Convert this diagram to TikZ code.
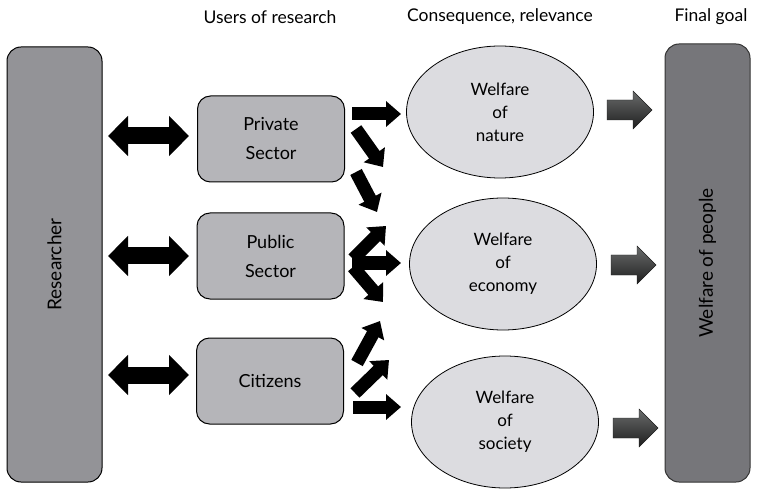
\documentclass[tikz,border=0pt]{standalone}
\usepackage{fontspec}
\setmainfont{Lato}
\usetikzlibrary{arrows.meta,shapes.geometric}
\definecolor{resgray}{HTML}{939397}
\definecolor{usergray}{HTML}{B5B5B9}
\definecolor{ellgray}{HTML}{DCDCE0}
\definecolor{goalgray}{HTML}{76767A}
\definecolor{arrtop}{HTML}{6A6C6C}
\definecolor{arrbot}{HTML}{1E1E1E}
\tikzset{
  bigbox/.style={draw=black, line width=1pt, rounded corners=14pt, inner sep=0pt},
  sidetext/.style={rotate=90, font=\fontsize{19}{22}\selectfont},
  userbox/.style={draw=black, line width=1pt, fill=usergray, rounded corners=13pt, minimum width=147pt, minimum height=86pt, align=center, inner sep=0pt, font=\fontsize{18}{29}\selectfont},
  wellbeing/.style={ellipse, draw=black, line width=0.8pt, fill=ellgray, minimum width=187pt, minimum height=132pt, align=center, inner sep=0pt, font=\fontsize{17}{23}\selectfont},
  header/.style={font=\fontsize{17.5}{20}\selectfont, inner sep=0pt},
  dblarrow/.style={draw=black, line width=17pt, {Triangle[width=39pt,length=20pt]}-{Triangle[width=39pt,length=20pt]}},
  blkarrow/.style={draw=black, line width=13pt, -{Triangle[width=25pt,length=15pt]}},
  garrow/.pic={\shade[top color=arrtop, bottom color=arrbot, draw=arrbot, line width=0.4pt]
     (0,-10) -- (26,-10) -- (26,-19) -- (45,0) -- (26,19) -- (26,10) -- (0,10) -- cycle;}
}
\begin{document}
\begin{tikzpicture}[x=1pt,y=-1pt]
\useasboundingbox (0,0) rectangle (759,502);
% headers
\node[header] (h1) at (270,17) {Users of research};
\node[header] (h2) at (500,17) {Consequence, relevance};
\node[header] (h3) at (711,17) {Final goal};
% big boxes
\node[bigbox, fill=resgray, minimum width=95pt, minimum height=435pt] (res) at (54.5,264.5) {};
\node[sidetext] (restext) at (res.center) {Researcher};
\node[bigbox, fill=goalgray, draw=black!80, minimum width=85pt, minimum height=438pt] (goal) at (707.5,263) {};
\node[sidetext] (goaltext) at (goal.center) {Welfare of people};
% user boxes
\node[userbox] (priv) at (271,139) {Private\\Sector};
\node[userbox] (pub) at (270.5,256) {Public\\Sector};
\node[userbox] (cit) at (270,381) {Citizens};
% ellipses
\node[wellbeing] (nat) at (500,112) {Welfare\\of\\nature};
\node[wellbeing] (eco) at (503,264) {Welfare\\of\\economy};
\node[wellbeing] (soc) at (505,422) {Welfare\\of\\society};
% double arrows
\coordinate (d1a) at (108,136); \coordinate (d1b) at (189,136);
\coordinate (d2a) at (108,256); \coordinate (d2b) at (189,256);
\coordinate (d3a) at (108,375); \coordinate (d3b) at (189,375);
\draw[dblarrow] (d1a) -- (d1b);
\draw[dblarrow] (d2a) -- (d2b);
\draw[dblarrow] (d3a) -- (d3b);
% black arrows
\coordinate (p1s) at (352,114); \coordinate (p1e) at (401,114);
\coordinate (p2s) at (356,129); \coordinate (p2e) at (383,167);
\coordinate (p3s) at (356,172); \coordinate (p3e) at (377,212);
\coordinate (u1s) at (353,259); \coordinate (u1e) at (386,226);
\coordinate (u2s) at (352,263); \coordinate (u2e) at (401,263);
\coordinate (u3s) at (353,267); \coordinate (u3e) at (383,302);
\coordinate (c1s) at (357,363); \coordinate (c1e) at (380,321);
\coordinate (c2s) at (355,393); \coordinate (c2e) at (389,360);
\coordinate (c3s) at (353,407); \coordinate (c3e) at (401,407);
\foreach \a in {p1,p2,p3,u1,u2,u3,c1,c2,c3}{\draw[blkarrow] (\a s) -- (\a e);}
% gray arrows
\coordinate (g1) at (607,110);
\coordinate (g2) at (611,265);
\coordinate (g3) at (613,428);
\pic at (g1) {garrow};
\pic at (g2) {garrow};
\pic at (g3) {garrow};
\end{tikzpicture}
\end{document}
